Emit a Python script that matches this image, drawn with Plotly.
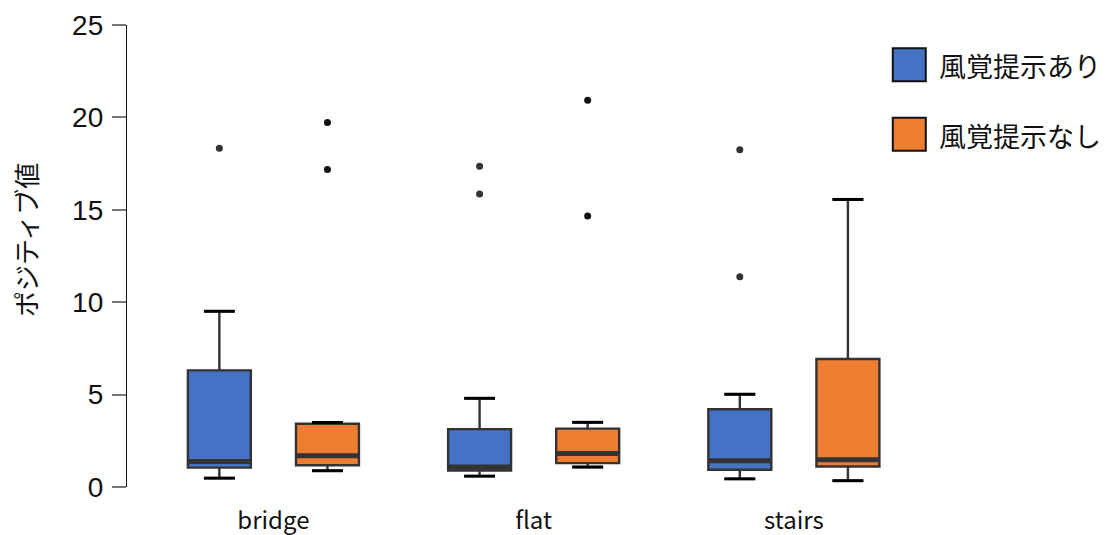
import plotly.graph_objects as go

# Summary statistics for each condition (bridge, flat, stairs)
categories = ["bridge", "flat", "stairs"]
series_names = ["風覚提示あり", "風覚提示なし"]

with_lower = [0.48, 0.59, 0.44]
with_q1 = [1.05, 0.89, 0.93]
with_median = [1.38, 1.08, 1.42]
with_q3 = [6.31, 3.13, 4.21]
with_upper = [9.51, 4.80, 5.02]
with_outliers = [[18.33], [17.36, 15.85], [18.25, 11.38]]

without_lower = [0.88, 1.08, 0.34]
without_q1 = [1.18, 1.29, 1.11]
without_median = [1.69, 1.81, 1.47]
without_q3 = [3.42, 3.16, 6.93]
without_upper = [3.49, 3.50, 15.56]
without_outliers = [[19.72, 17.18], [20.93, 14.66], []]

y_ticks = [0, 5, 10, 15, 20, 25]

# Styling
BLUE = "#4472C4"
ORANGE = "#ED7D31"
EDGE = "#333333"
OFFSET = 0.2077
BOX_W = 0.242
CAP_FRAC = 0.49
JP_FONT = "Noto Sans CJK JP"

W, H = 1107, 535
L, R, T, B = 127, 157.3, 24.6, 47.8
pw, ph = W - L - R, H - T - B


def px_x(x):
    """Pixel column -> plot-area paper x."""
    return (x - L) / pw


def px_y(y):
    """Pixel row (from top) -> plot-area paper y."""
    return (H - B - y) / ph


groups = [
    dict(name=series_names[0], color=BLUE, dot="#333333", shift=-OFFSET,
         lower=with_lower, q1=with_q1, med=with_median, q3=with_q3,
         upper=with_upper, out=with_outliers),
    dict(name=series_names[1], color=ORANGE, dot="#111111", shift=OFFSET,
         lower=without_lower, q1=without_q1, med=without_median, q3=without_q3,
         upper=without_upper, out=without_outliers),
]

fig = go.Figure()
shapes = []

for g in groups:
    xs = [i + g["shift"] for i in range(len(categories))]
    fig.add_trace(go.Box(
        x=xs,
        q1=g["q1"], median=g["med"], q3=g["q3"],
        lowerfence=g["lower"], upperfence=g["upper"],
        width=BOX_W,
        whiskerwidth=CAP_FRAC,
        fillcolor=g["color"],
        line=dict(color=EDGE, width=2.4),
        boxpoints=False,
        name=g["name"],
        showlegend=False,
        hoverinfo="skip",
    ))
    half = BOX_W / 2
    cap = BOX_W * CAP_FRAC / 2
    for x, m, lo, hi in zip(xs, g["med"], g["lower"], g["upper"]):
        # thick median bar
        shapes.append(dict(type="line", xref="x", yref="y",
                           x0=x - half, x1=x + half, y0=m, y1=m,
                           line=dict(color=EDGE, width=5), layer="above"))
        # black whisker caps
        for v in (lo, hi):
            shapes.append(dict(type="line", xref="x", yref="y",
                               x0=x - cap, x1=x + cap, y0=v, y1=v,
                               line=dict(color="#000000", width=3), layer="above"))
    # outlier dots
    ox, oy = [], []
    for x, vals in zip(xs, g["out"]):
        for v in vals:
            ox.append(x)
            oy.append(v)
    fig.add_trace(go.Scatter(
        x=ox, y=oy, mode="markers",
        marker=dict(color=g["dot"], size=7),
        showlegend=False, hoverinfo="skip",
    ))

# Legend drawn as large squares with labels
annotations = []
legend_rows = [(64.5, BLUE, series_names[0]), (134.0, ORANGE, series_names[1])]
for yc, color, label in legend_rows:
    shapes.append(dict(type="rect", xref="paper", yref="paper",
                       x0=px_x(892.5), x1=px_x(925.5),
                       y0=px_y(yc + 16.5), y1=px_y(yc - 16.5),
                       fillcolor=color, line=dict(color="#111111", width=2)))
    annotations.append(dict(
        text=label, xref="paper", yref="paper",
        x=px_x(937), y=px_y(yc + 1), xanchor="left", yanchor="middle",
        showarrow=False, font=dict(family=JP_FONT, size=27, color="#111111"),
    ))

# Vertical axis title
annotations.append(dict(
    text="ポジティブ値", xref="paper", yref="paper",
    x=px_x(25), y=px_y(240), xanchor="center", yanchor="middle",
    textangle=-90, showarrow=False,
    font=dict(family=JP_FONT, size=26, color="#111111"),
))

fig.update_layout(
    shapes=shapes,
    annotations=annotations,
    width=W, height=H,
    margin=dict(l=L, r=R, t=T, b=B, pad=0, autoexpand=False),
    paper_bgcolor="white",
    plot_bgcolor="white",
    showlegend=False,
    xaxis=dict(
        range=[-0.5626, 2.6],
        tickvals=list(range(len(categories))),
        ticktext=categories,
        automargin=False,
        showgrid=False, zeroline=False, showline=False,
        ticks="outside", ticklen=12, tickcolor="rgba(0,0,0,0)",
        tickfont=dict(family=JP_FONT, size=24, color="#111111"),
    ),
    yaxis=dict(
        range=[0, 25],
        tickvals=y_ticks,
        automargin=False,
        showgrid=False, zeroline=False,
        showline=True, linecolor="#111111", linewidth=1.3,
        ticks="outside", ticklen=14, tickwidth=1.5, tickcolor="#777777",
        ticklabelstandoff=3,
        tickfont=dict(family="Liberation Sans, Arial", size=28, color="#111111"),
    ),
)

fig.write_html("out.html")
